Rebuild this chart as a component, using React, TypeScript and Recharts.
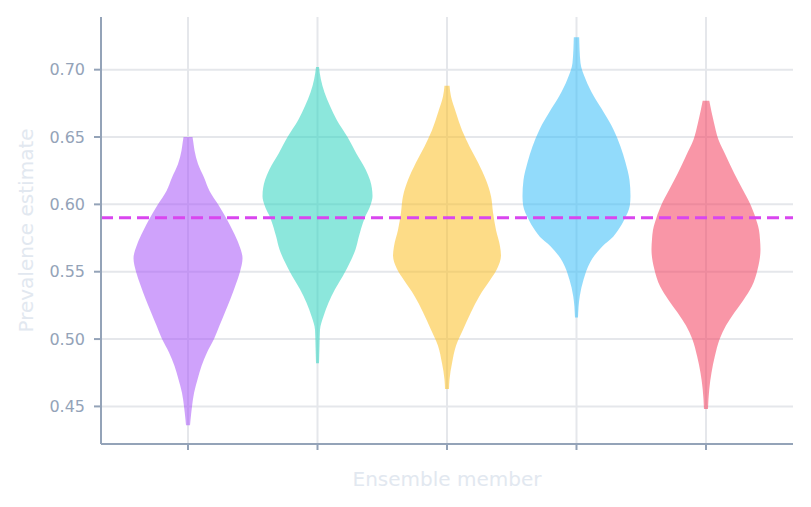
import React from 'react';
import {
  ComposedChart,
  Area,
  XAxis,
  YAxis,
  CartesianGrid,
  ReferenceLine,
  Label,
} from 'recharts';

// ensemble members (x categories, tick labels hidden in the original)
const members = ['Member 1', 'Member 2', 'Member 3', 'Member 4', 'Member 5'];
const memberColors = ['#a855f7', '#2dd4bf', '#fbbf24', '#38bdf8', '#f43f5e'];

// kernel density outline of each member
// prevalence (y) ascending, density = half width of the violin
const m1Prevalence = [0.436, 0.44, 0.45, 0.46, 0.47, 0.48, 0.49, 0.5, 0.51, 0.52, 0.53, 0.54, 0.55, 0.56, 0.57, 0.58, 0.59, 0.6, 0.61, 0.62, 0.63, 0.64, 0.645, 0.65];
const m1Density = [2, 2.5, 4, 6, 9.5, 13.5, 19, 26, 31.5, 37, 42.5, 47.5, 52, 54.5, 51, 45, 38, 30, 21.5, 16, 10, 6.5, 5.5, 4.5];

const m2Prevalence = [0.482, 0.495, 0.507, 0.517, 0.527, 0.537, 0.547, 0.557, 0.5665, 0.576, 0.589, 0.6, 0.606, 0.618, 0.626, 0.638, 0.65, 0.663, 0.673, 0.683, 0.693, 0.702];
const m2Density = [1.5, 2, 2.5, 6, 11, 17.5, 25.5, 32.5, 38, 41.3, 46.7, 53.3, 55, 52.5, 48, 38.7, 30, 19, 12.5, 7, 3.3, 1.5];

const m3Prevalence = [0.463, 0.47, 0.482, 0.495, 0.507, 0.52, 0.532, 0.544, 0.552, 0.562, 0.569, 0.581, 0.594, 0.606, 0.618, 0.631, 0.643, 0.655, 0.668, 0.68, 0.688];
const m3Density = [2, 2.5, 5, 9, 16, 24, 32.5, 43.3, 50, 54, 53, 49, 46, 44, 39, 31, 22.5, 15, 9, 4, 2.5];

const m4Prevalence = [0.516, 0.532, 0.544, 0.557, 0.562, 0.569, 0.576, 0.581, 0.589, 0.599, 0.606, 0.618, 0.631, 0.643, 0.656, 0.668, 0.68, 0.693, 0.705, 0.724];
const m4Density = [1.5, 3.3, 7, 13.7, 18, 26, 36.7, 41.7, 48, 53.3, 54, 53, 49, 44, 36.7, 27.5, 17.5, 9, 4, 2.7];

const m5Prevalence = [0.448, 0.463, 0.475, 0.487, 0.5, 0.51, 0.5195, 0.529, 0.539, 0.552, 0.5665, 0.574, 0.581, 0.586, 0.599, 0.611, 0.623, 0.636, 0.648, 0.6605, 0.677];
const m5Density = [2, 3.3, 5.5, 8.8, 13.7, 20, 28.3, 37.5, 45.8, 51.7, 54.5, 54, 53, 51.3, 45, 36.7, 28.3, 20, 12.5, 8, 3.3];

const yTicks = [0.45, 0.5, 0.55, 0.6, 0.65, 0.7];
const truePrevalence = 0.59;

const prevalenceLists = [m1Prevalence, m2Prevalence, m3Prevalence, m4Prevalence, m5Prevalence];
const densityLists = [m1Density, m2Density, m3Density, m4Density, m5Density];

// density units -> category units
const DENSITY_SCALE = 1 / 129.5;

const violins = members.map((name, i) => ({
  name,
  color: memberColors[i],
  data: prevalenceLists[i].map((v, k) => {
    const w = densityLists[i][k] * DENSITY_SCALE;
    return { v, span: [i - w, i + w] };
  }),
}));

const axisColor = '#94a3b8';
const titleColor = '#e2e8f0';

const YTitle = (props: any) => {
  const vb = props.viewBox;
  const x = vb.x + 18;
  const y = vb.y + vb.height / 2;
  return (
    <text
      x={x}
      y={y}
      transform={`rotate(-90 ${x} ${y})`}
      textAnchor="middle"
      dominantBaseline="central"
      fill={titleColor}
      fontSize={20}
    >
      Prevalence estimate
    </text>
  );
};

export default function App() {
  return (
    <div style={{ width: 803, height: 499, fontFamily: '"DejaVu Sans", sans-serif' }}>
      <ComposedChart
        layout="vertical"
        width={803}
        height={499}
        margin={{ top: 9, right: 18, bottom: 0, left: 0 }}
      >
        <CartesianGrid stroke="#e5e7eb" strokeWidth={2} syncWithTicks />
        <XAxis
          type="number"
          domain={[-0.672, 4.672]}
          ticks={[0, 1, 2, 3, 4]}
          allowDataOverflow
          height={63}
          tickFormatter={() => ''}
          axisLine={{ stroke: axisColor, strokeWidth: 2 }}
          tickLine={{ stroke: axisColor, strokeWidth: 2 }}
          tickSize={6}
        >
          <Label value="Ensemble member" position="insideBottom" offset={21} fill={titleColor} fontSize={20} />
        </XAxis>
        <YAxis
          type="number"
          dataKey="v"
          domain={[0.4221, 0.7391]}
          ticks={yTicks}
          reversed
          allowDataOverflow
          width={93}
          tickFormatter={(v: number) => v.toFixed(2)}
          tick={{ fill: axisColor, fontSize: 16 }}
          axisLine={{ stroke: axisColor, strokeWidth: 2 }}
          tickLine={{ stroke: axisColor, strokeWidth: 2 }}
          tickSize={7}
          tickMargin={9}
        >
          <Label content={YTitle} />
        </YAxis>
        {violins.map((vl) => (
          <Area
            key={vl.name}
            name={vl.name}
            data={vl.data}
            dataKey="span"
            type="monotone"
            fill={vl.color}
            fillOpacity={0.55}
            stroke="none"
            isAnimationActive={false}
          />
        ))}
        <ReferenceLine y={truePrevalence} stroke="#d946ef" strokeWidth={3} strokeDasharray="12 6" />
      </ComposedChart>
    </div>
  );
}
